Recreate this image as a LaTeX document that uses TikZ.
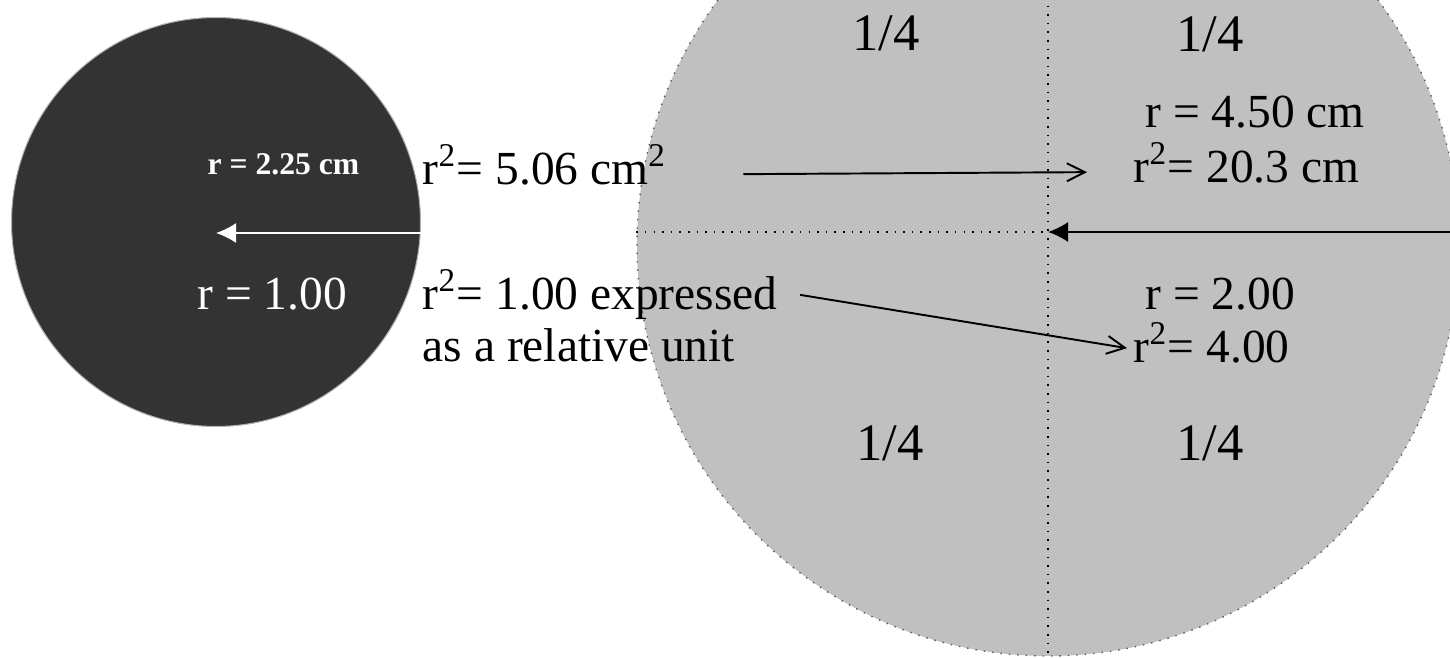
\documentclass[tikz,border=0pt]{standalone}
\usepackage{fontspec}
\setmainfont{Liberation Serif}
\usepackage{tikz}
\usetikzlibrary{arrows.meta}

\definecolor{discdark}{RGB}{51,51,51}
\definecolor{discgray}{RGB}{192,192,192}

\begin{document}
\begin{tikzpicture}[
    x=0.1mm, y=-0.1mm,
    disc/.style={circle, inner sep=0pt},
    txt/.style={inner sep=0pt, anchor=base west, font=\fontsize{13.5}{16}\selectfont},
    quarter/.style={inner sep=0pt, font=\fontsize{15}{18}\selectfont},
    openarrow/.style={line width=0.55pt, -{Straight Barb[length=1.8mm, width=1.8mm]}},
    filledarrow/.style={line width=0.55pt, -{Latex[length=2mm, width=2mm]}},
    cross/.style={line width=0.45pt, dotted}
]
    \useasboundingbox (0,0) rectangle (1450,658);

    % Discs
    \node[disc, minimum size=40.9mm, fill=discdark, draw=gray!60, line width=0.3pt] (unit) at (216,222) {};
    \node[disc, minimum size=82.2mm, fill=discgray, draw=black!65, dotted, line width=0.4pt] (quad) at (1048,245) {};
    \coordinate (mid) at (1048,232);

    % Quarter lines
    \draw[cross] (quad.west |- mid) -- (mid);
    \draw[cross] (quad.north) -- (quad.south);

    % Quarter labels
    \node[quarter] (qtl) at (886,33) {1/4};
    \node[quarter] (qtr) at (1210,34) {1/4};
    \node[quarter] (qbl) at (890,443) {1/4};
    \node[quarter] (qbr) at (1210,443) {1/4};

    % Small disc labels
    \node[txt, white, font=\fontsize{9}{11}\selectfont\bfseries] (rsmall) at (207,175) {r = 2.25 cm};
    \node[txt, white] (rone) at (197,310) {r = 1.00};

    % Middle labels
    \node[txt] (sqa) at (422,185) {r\textsuperscript{2}= 5.06 cm\textsuperscript{2}};
    \node[txt] (expr) at (422,310) {r\textsuperscript{2}= 1.00 expressed};
    \node[txt] (rel) at (422,362) {as a relative unit};

    % Large disc labels
    \node[txt] (rbig) at (1145,128) {r = 4.50 cm};
    \node[txt] (sqb) at (1133,183) {r\textsuperscript{2}= 20.3 cm};
    \node[txt] (rtwo) at (1145,310) {r = 2.00};
    \node[txt] (rfour) at (1133,363) {r\textsuperscript{2}= 4.00};

    % Connections
    \draw[filledarrow, white] ([yshift=-1.1mm]unit.east) -- ([yshift=-1.1mm]unit.center);
    \draw[filledarrow] (quad.east |- mid) -- (mid);
    \draw[openarrow] ([xshift=7.6mm, yshift=-0.9mm]sqa.east) -- ([xshift=-4.6mm, yshift=-0.9mm]sqb.west);
    \draw[openarrow] ([xshift=2.2mm]expr.east) -- ([xshift=-0.6mm, yshift=-0.5mm]rfour.west);
\end{tikzpicture}
\end{document}
